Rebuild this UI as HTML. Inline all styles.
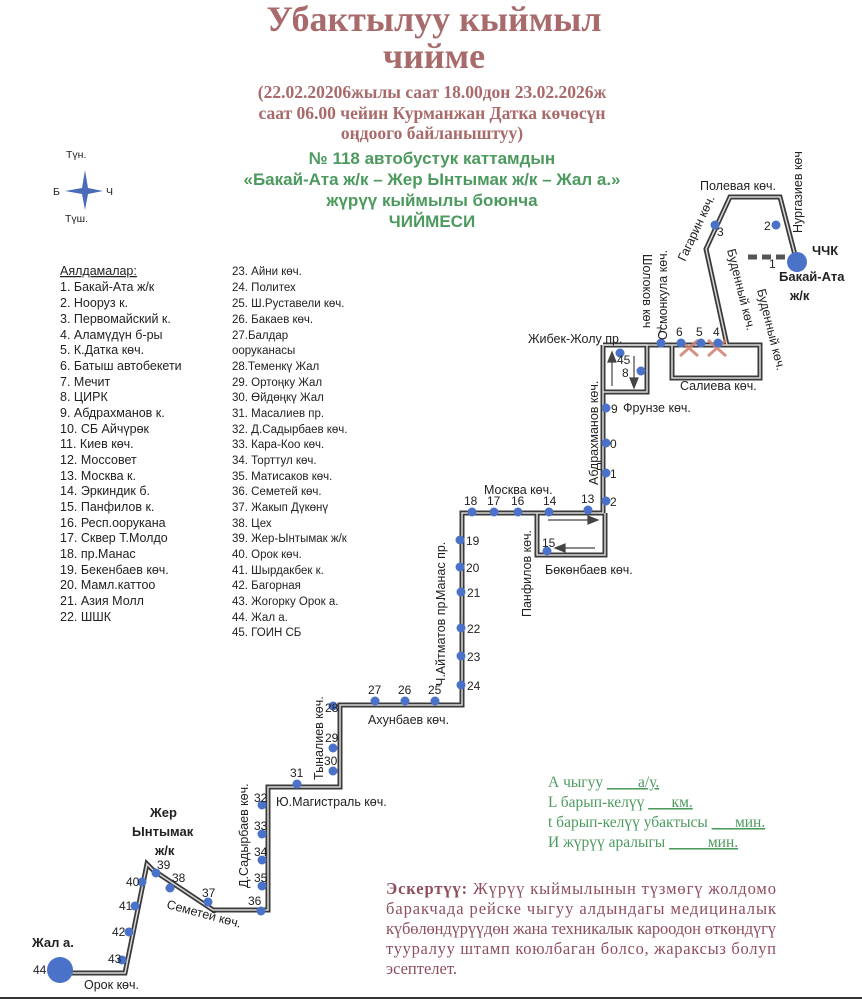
<!DOCTYPE html>
<html><head><meta charset="utf-8"><style>
html,body{margin:0;padding:0;background:#fff;width:862px;height:1000px;overflow:hidden}
svg{display:block}
.s{font-family:"Liberation Sans","DejaVu Sans",sans-serif;font-size:12.5px;fill:#222}
.n{font-family:"Liberation Sans",sans-serif;font-size:12px;fill:#222}
.l{font-family:"Liberation Sans",sans-serif;font-size:11.5px;fill:#222}
.l2{font-family:"Liberation Sans",sans-serif;font-size:12.5px;fill:#222}
.t{font-family:"Liberation Serif",serif;font-weight:bold;fill:#a86a6a;text-anchor:middle}
.g{font-family:"Liberation Sans",sans-serif;font-weight:bold;fill:#4c9a5e;text-anchor:middle;font-size:17px}
.gs{font-family:"Liberation Serif",serif;fill:#4c9a5e;font-size:15.5px}
.r{font-family:"Liberation Serif",serif;fill:#8e4e5e;font-size:16.5px}
</style></head><body>
<svg width="862" height="1000" viewBox="0 0 862 1000" xmlns="http://www.w3.org/2000/svg">
<text class="t" x="434" y="31" font-size="36">Убактылуу кыймыл</text>
<text class="t" x="434" y="68" font-size="36">чийме</text>
<text class="t" x="432" y="98" font-size="17.5">(22.02.20206жылы саат 18.00дон 23.02.2026ж</text>
<text class="t" x="432" y="119" font-size="17.5">саат 06.00 чейин Курманжан Датка көчөсүн</text>
<text class="t" x="432" y="139" font-size="17.5">оңдоого байланыштуу)</text>
<text class="g" x="432" y="164">№ 118  автобустук каттамдын</text>
<text class="g" x="432" y="185">«Бакай-Ата ж/к – Жер Ынтымак ж/к – Жал а.»</text>
<text class="g" x="432" y="206">жүрүү кыймылы боюнча</text>
<text class="g" x="432" y="227">ЧИЙМЕСИ</text>

<!-- compass -->
<text class="l" x="66" y="158" style="font-size:10.5px">Түн.</text>
<text class="l" x="53" y="195" style="font-size:10.5px">Б</text>
<text class="l" x="106" y="195" style="font-size:10.5px">Ч</text>
<text class="l" x="65" y="222" style="font-size:10.5px">Түш.</text>
<path d="M85,170 L88,188 L103,191 L88,194 L85,210 L82,194 L65,191 L82,188 Z" fill="#4a6cb8"/>

<!-- legend -->
<g class="l2">
<text x="60" y="275" text-decoration="underline">Аялдамалар:</text>
<text x="60" y="291">1. Бакай-Ата ж/к</text>
<text x="60" y="307">2.  Нооруз к.</text>
<text x="60" y="323">3. Первомайский к.</text>
<text x="60" y="339">4. Аламүдүн б-ры</text>
<text x="60" y="354">5. К.Датка көч.</text>
<text x="60" y="370">6. Батыш автобекети</text>
<text x="60" y="386">7. Мечит</text>
<text x="60" y="401">8. ЦИРК</text>
<text x="60" y="417">9. Абдрахманов к.</text>
<text x="60" y="433">10. СБ Айчүрөк</text>
<text x="60" y="448">11. Киев көч.</text>
<text x="60" y="464">12. Моссовет</text>
<text x="60" y="480">13. Москва к.</text>
<text x="60" y="495">14. Эркиндик б.</text>
<text x="60" y="511">15. Панфилов к.</text>
<text x="60" y="527">16. Респ.оорукана</text>
<text x="60" y="542">17. Сквер Т.Молдо</text>
<text x="60" y="558">18. пр.Манас</text>
<text x="60" y="574">19. Бекенбаев көч.</text>
<text x="60" y="589">20. Мамл.каттоо</text>
<text x="60" y="605">21. Азия Молл</text>
<text x="60" y="621">22. ШШК</text>
</g>
<g class="l">
<text x="232" y="275">23. Айни көч.</text>
<text x="232" y="291">24. Политех</text>
<text x="232" y="307">25. Ш.Руставели көч.</text>
<text x="232" y="323">26. Бакаев көч.</text>
<text x="232" y="339">27.Балдар</text>
<text x="232" y="354">ооруканасы</text>
<text x="232" y="370">28.Теменкү Жал</text>
<text x="232" y="386">29. Ортоңку Жал</text>
<text x="232" y="401">30. Өйдөңкү Жал</text>
<text x="232" y="417">31. Масалиев пр.</text>
<text x="232" y="433">32. Д.Садырбаев көч.</text>
<text x="232" y="448">33. Кара-Коо көч.</text>
<text x="232" y="464">34. Торттул көч.</text>
<text x="232" y="480">35. Матисаков көч.</text>
<text x="232" y="495">36. Семетей көч.</text>
<text x="232" y="511">37. Жакып Дүкөнү</text>
<text x="232" y="527">38. Цех</text>
<text x="232" y="542">39. Жер-Ынтымак ж/к</text>
<text x="232" y="558">40. Орок көч.</text>
<text x="232" y="574">41. Шырдакбек к.</text>
<text x="232" y="589">42. Багорная</text>
<text x="232" y="605">43. Жогорку Орок а.</text>
<text x="232" y="621">44. Жал а.</text>
<text x="232" y="636">45. ГОИН СБ</text>
</g>

<!-- routes -->
<g fill="none" stroke-linejoin="miter">
<g stroke="#3a3a3a" stroke-width="5">
<path d="M795,255 L780,197 L730,197 L706,249 L727,345"/>
<path d="M603,345 L760,345 L760,378 L672,378 L672,345"/>
<path d="M603,345 L647,345 L647,392 L603,392"/>
<path d="M603,345 L603,513 L462,513 L462,705 L340,705 L340,787 L268,787 L268,910 L213,910 L153,870 L147,864 L125,973 L62,973"/>
<path d="M537,513 L537,555 L605,555 L605,513"/>
</g>
<g stroke="#d8d8d8" stroke-width="1.5">
<path d="M795,255 L780,197 L730,197 L706,249 L727,345"/>
<path d="M603,345 L760,345 L760,378 L672,378 L672,345"/>
<path d="M603,345 L647,345 L647,392 L603,392"/>
<path d="M603,345 L603,513 L462,513 L462,705 L340,705 L340,787 L268,787 L268,910 L213,910 L153,870 L147,864 L125,973 L62,973"/>
<path d="M537,513 L537,555 L605,555 L605,513"/>
</g>
<path d="M748,257 L800,257" stroke="#555" stroke-width="5" stroke-dasharray="9,5"/>
</g>

<!-- arrows -->
<g stroke="#444" stroke-width="1.2" fill="#444">
<line x1="612" y1="386" x2="612" y2="360"/><path d="M608,362 L612,352 L616,362 Z"/>
<line x1="634" y1="356" x2="634" y2="380"/><path d="M630,378 L634,388 L638,378 Z"/>
<line x1="548" y1="520" x2="590" y2="520"/><path d="M588,516 L598,520 L588,524 Z"/>
<line x1="595" y1="548" x2="563" y2="548"/><path d="M565,544 L555,548 L565,552 Z"/>
</g>

<!-- red X -->
<g stroke="#d08070" stroke-width="3" opacity="0.85">
<line x1="680" y1="340" x2="698" y2="356"/><line x1="698" y1="340" x2="680" y2="356"/>
<line x1="708" y1="340" x2="726" y2="356"/><line x1="726" y1="340" x2="708" y2="356"/>
</g>

<!-- stops -->
<g fill="#4a72c8">
<circle cx="797" cy="262" r="10"/>
<circle cx="60" cy="970" r="13"/>
<circle cx="776" cy="225" r="4.5"/><circle cx="715" cy="225" r="4.5"/>
<circle cx="718" cy="343" r="4.5"/><circle cx="701" cy="343" r="4.5"/><circle cx="681" cy="343" r="4.5"/><circle cx="661" cy="343" r="4.5"/>
<circle cx="641" cy="371" r="4.5"/><circle cx="620" cy="353" r="4.5"/>
<circle cx="606" cy="408" r="4.5"/><circle cx="606" cy="443" r="4.5"/><circle cx="606" cy="473" r="4.5"/><circle cx="606" cy="501" r="4.5"/>
<circle cx="588" cy="510" r="4.5"/><circle cx="549" cy="512" r="4.5"/><circle cx="518" cy="512" r="4.5"/><circle cx="494" cy="512" r="4.5"/><circle cx="472" cy="512" r="4.5"/>
<circle cx="547" cy="551" r="4.5"/>
<circle cx="460" cy="540" r="4.5"/><circle cx="460" cy="567" r="4.5"/><circle cx="461" cy="592" r="4.5"/><circle cx="461" cy="628" r="4.5"/><circle cx="461" cy="656" r="4.5"/><circle cx="461" cy="685" r="4.5"/>
<circle cx="435" cy="701" r="4.5"/><circle cx="405" cy="701" r="4.5"/><circle cx="375" cy="701" r="4.5"/>
<circle cx="333" cy="706" r="4.5"/><circle cx="333" cy="748" r="4.5"/><circle cx="333" cy="771" r="4.5"/>
<circle cx="297" cy="784" r="4.5"/>
<circle cx="262" cy="805" r="4.5"/><circle cx="262" cy="834" r="4.5"/><circle cx="262" cy="860" r="4.5"/><circle cx="262" cy="886" r="4.5"/><circle cx="261" cy="911" r="4.5"/>
<circle cx="208" cy="902" r="4.5"/><circle cx="170" cy="888" r="4.5"/><circle cx="156" cy="873" r="4.5"/>
<circle cx="142" cy="882" r="4.5"/><circle cx="135" cy="906" r="4.5"/><circle cx="129" cy="932" r="4.5"/><circle cx="122" cy="960" r="4.5"/>
</g>

<!-- stop numbers -->
<g class="n">
<text x="769" y="268">1</text><text x="764" y="230">2</text><text x="717" y="236">3</text>
<text x="713" y="336">4</text><text x="696" y="336">5</text><text x="676" y="336">6</text><text x="656" y="336">7</text>
<text x="622" y="377">8</text><text x="617" y="364">45</text>
<text x="611" y="413">9</text><text x="610" y="448">0</text><text x="610" y="478">1</text><text x="610" y="506">2</text>
<text x="581" y="503">13</text><text x="543" y="505">14</text><text x="511" y="505">16</text><text x="487" y="505">17</text><text x="464" y="505">18</text>
<text x="542" y="547">15</text>
<text x="466" y="545">19</text><text x="466" y="572">20</text><text x="467" y="597">21</text><text x="467" y="633">22</text><text x="467" y="661">23</text><text x="467" y="690">24</text>
<text x="428" y="694">25</text><text x="398" y="694">26</text><text x="368" y="694">27</text>
<text x="325" y="712">28</text><text x="325" y="742">29</text><text x="324" y="765">30</text><text x="290" y="777">31</text>
<text x="254" y="802">32</text><text x="254" y="830">33</text><text x="254" y="856">34</text><text x="254" y="882">35</text><text x="248" y="905">36</text>
<text x="202" y="897">37</text><text x="172" y="882">38</text><text x="157" y="869">39</text>
<text x="126" y="886">40</text><text x="119" y="910">41</text><text x="112" y="936">42</text><text x="108" y="963">43</text>
<text x="33" y="974">44</text>
</g>

<!-- street labels -->
<g class="s">
<text x="700" y="190">Полевая көч.</text>
<text transform="translate(802,233) rotate(-90)">Нургазиев көч</text>
<text x="812" y="255" font-weight="bold" font-size="13">ЧЧК</text>
<text x="779" y="281" font-weight="bold" font-size="13">Бакай-Ата</text>
<text x="790" y="300" font-weight="bold" font-size="13">ж/к</text>
<text transform="translate(685,262) rotate(-65)">Гагарин көч.</text>
<text transform="translate(667,340) rotate(-90)">Осмонкула көч.</text>
<text transform="translate(643,254) rotate(90)">Шолоков көч</text>
<text transform="translate(727,250) rotate(76)">Буденный көч.</text>
<text transform="translate(757,290) rotate(76)">Буденный көч.</text>
<text x="528" y="343">Жибек-Жолу пр.</text>
<text x="680" y="390">Салиева көч.</text>
<text x="623" y="412">Фрунзе көч.</text>
<text transform="translate(598,485) rotate(-90)">Абдрахманов көч.</text>
<text x="484" y="494">Москва көч.</text>
<text transform="translate(531,617) rotate(-90)">Панфилов көч.</text>
<text x="545" y="574">Бөкөнбаев көч.</text>
<text transform="translate(445,600) rotate(-90)">Манас пр.</text>
<text transform="translate(445,686) rotate(-90)">Ч.Айтматов пр.</text>
<text x="368" y="724">Ахунбаев көч.</text>
<text transform="translate(323,780) rotate(-90)">Тыналиев көч.</text>
<text x="276" y="806">Ю.Магистраль көч.</text>
<text transform="translate(248,888) rotate(-90)">Д.Садырбаев көч.</text>
<text transform="translate(166,908) rotate(15)">Семетей көч.</text>
<text x="84" y="989">Орок көч.</text>
<text x="150" y="817" font-weight="bold" font-size="13">Жер</text>
<text x="132" y="836" font-weight="bold" font-size="13">Ынтымак</text>
<text x="155" y="855" font-weight="bold" font-size="13">ж/к</text>
<text x="32" y="947" font-weight="bold" font-size="13">Жал а.</text>
</g>

<!-- info -->
<g class="gs">
<text x="548" y="787">А чыгуу <tspan text-decoration="underline">____а/у.</tspan></text>
<text x="548" y="807">L барып-келүү <tspan text-decoration="underline">___км.</tspan></text>
<text x="548" y="827">t барып-келүү убактысы <tspan text-decoration="underline">___мин.</tspan></text>
<text x="548" y="847">И жүрүү аралыгы <tspan text-decoration="underline">  _____мин.</tspan></text>
</g>
<g class="r">
<text x="386" y="894" textLength="390" lengthAdjust="spacing"><tspan font-weight="bold">Эскертүү:</tspan> Жүрүү кыймылынын түзмөгү жолдомо</text>
<text x="386" y="914" textLength="390" lengthAdjust="spacing">баракчада рейске чыгуу алдындагы медициналык</text>
<text x="386" y="934" textLength="390" lengthAdjust="spacing">күбөлөндүрүүдөн жана техникалык кароодон өткөндүгү</text>
<text x="386" y="954" textLength="390" lengthAdjust="spacing">тууралуу штамп коюлбаган болсо, жараксыз болуп</text>
<text x="386" y="974">эсептелет.</text>
</g>
<line x1="0" y1="998" x2="862" y2="998" stroke="#333" stroke-width="2"/>
</svg>
</body></html>
